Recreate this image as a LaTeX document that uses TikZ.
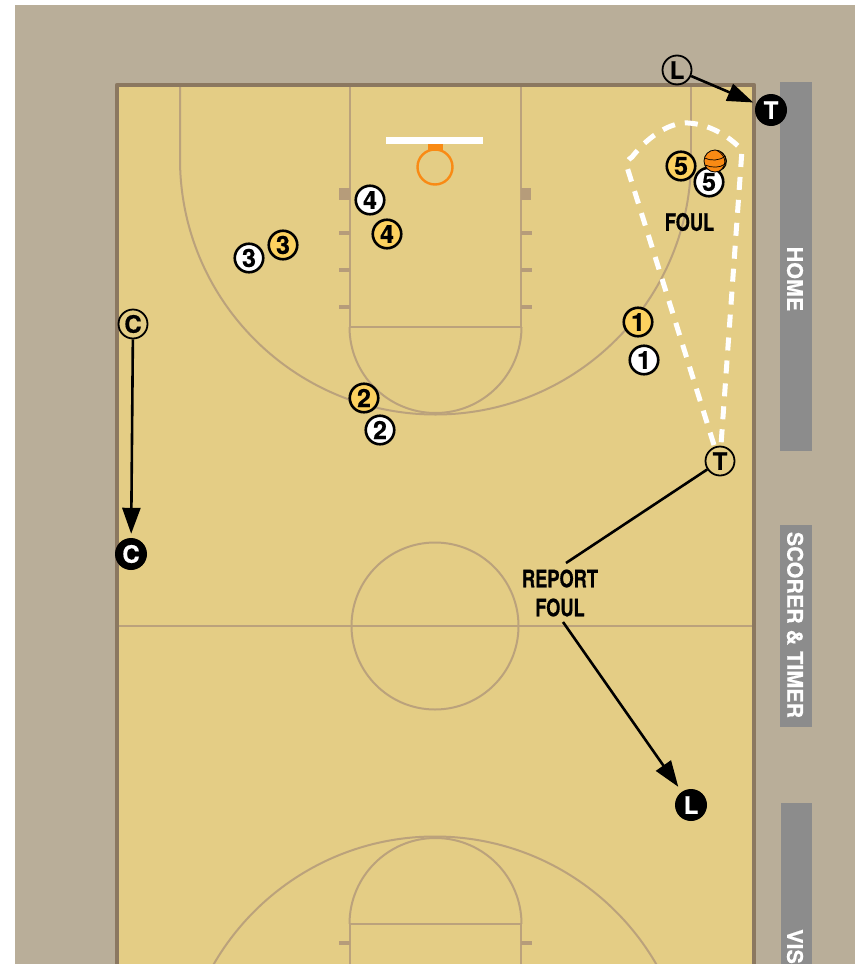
\documentclass[tikz,border=0pt]{standalone}
\usepackage{fontspec}
\usepackage{graphicx}
\setmainfont[BoldFeatures={FakeBold=0.5}]{TeX Gyre Heros}
\usetikzlibrary{arrows.meta}
\definecolor{bgc}{HTML}{B9AE99}
\definecolor{courtc}{HTML}{E4CD85}
\definecolor{borderc}{HTML}{8B7860}
\definecolor{linec}{HTML}{BBA27C}
\definecolor{markc}{HTML}{B69C7A}
\definecolor{barc}{HTML}{8C8C8C}
\definecolor{hoopc}{HTML}{F98A14}
\definecolor{yellowp}{HTML}{FCD15F}
\tikzset{
  courtline/.style={draw=linec,line width=2pt},
  hash/.style={fill=markc,draw=none},
  playerbase/.style={circle,draw=black,line width=2.6pt,minimum size=28.5pt,inner sep=0pt,font=\bfseries\fontsize{25}{25}\selectfont},
  yplayer/.style={playerbase,fill=yellowp},
  wplayer/.style={playerbase,fill=white},
  official/.style={circle,draw=black,line width=1.8pt,minimum size=29pt,inner sep=0pt,font=\bfseries\fontsize{24}{24}\selectfont},
  newpos/.style={circle,fill=black,minimum size=32pt,inner sep=0pt,text=white,font=\bfseries\fontsize{24}{24}\selectfont},
  note/.style={align=center,inner sep=0pt,font=\bfseries\fontsize{24}{29}\selectfont},
  barlabel/.style={rotate=-90,text=white,inner sep=0pt,font=\bfseries\fontsize{21.5}{21.5}\selectfont},
  move/.style={draw=black,line width=2.6pt,-{Triangle[length=26pt,width=18pt]}},
  plainmove/.style={draw=black,line width=2.6pt},
  pass/.style={draw=white,line width=5pt,dash pattern=on 13pt off 10pt}
}
\newcommand{\narrow}[1]{\scalebox{0.76}[1]{#1}}
\begin{document}
\begin{tikzpicture}[x=1pt,y=-1pt]
\useasboundingbox (0,0) rectangle (860,964);
\begin{scope}
\clip (0,0) rectangle (860,964);
\fill[white] (0,0) rectangle (860,964);
\fill[bgc] (15,5) rectangle (855,964);
% bars
\fill[barc] (780,82) rectangle (812,451);
\fill[barc] (780,525) rectangle (812,727);
\fill[barc] (781,803) rectangle (812,964);
% court
\fill[courtc] (117,85) rectangle (754,970);
% upper half
\draw[courtline] (180,85) -- (180,159) arc[start angle=180,end angle=0,radius=255.5];
\draw[courtline] (691,159) -- (691,85);
\draw[courtline] (350,85) -- (350,327) (520.5,85) -- (520.5,327) (350,327) -- (520.5,327);
\draw[courtline] (349.5,327) arc[start angle=180,end angle=0,radius=86];
\foreach \yy in {233,270,307}{
  \fill[hash] (339,\yy-1.7) rectangle (350,\yy+1.7);
  \fill[hash] (521,\yy-1.7) rectangle (532,\yy+1.7);
}
\fill[hash] (339,188) rectangle (350,200);
\fill[hash] (521,188) rectangle (531,200);
% centre
\draw[courtline] (117,626) -- (754,626);
\draw[courtline] (435,626) circle[radius=83.5];
% lower half
\draw[courtline] (179.5,1092) arc[start angle=180,end angle=360,radius=255.5];
\draw[courtline] (350,970) -- (350,924) -- (520.5,924) -- (520.5,970);
\draw[courtline] (349.5,924) arc[start angle=180,end angle=360,radius=86];
\fill[hash] (339,941.3) rectangle (350,944.7);
\fill[hash] (521,941.3) rectangle (532,944.7);
% border
\draw[borderc,line width=4.2pt,line join=round] (117,970) -- (117,85) -- (754,85) -- (754,970);
% hoop
\fill[white] (386,137) rectangle (483,144);
\fill[hoopc] (428,144) rectangle (443,151);
\draw[hoopc,line width=2.4pt] (435,167) circle[radius=17.5];
% bar labels
\node[barlabel] (home) at (795,279) {HOME};
\node[barlabel] (scorer) at (795,625) {SCORER \& TIMER};
\node[barlabel,anchor=west] (visitor) at (795,929) {VISI};
\end{scope}
% pass area
\draw[pass,line join=round] (714,445) -- (627,167) .. controls (626,161) and (628,160) .. (632,157) .. controls (650,134) and (672,122) .. (688,123) .. controls (708,124) and (728,135) .. (742,150) -- (721,445);
% players
\node[yplayer] (y3) at (283,245) {3};
\node[wplayer] (w3) at (249,258) {3};
\node[wplayer] (w4) at (370,200) {4};
\node[yplayer] (y4) at (387,234) {4};
\node[yplayer] (y1) at (638,322) {1};
\node[wplayer] (w1) at (644,360) {1};
\node[yplayer] (y2) at (364,398) {2};
\node[wplayer] (w2) at (380,430) {2};
\node[yplayer] (y5) at (681,166) {5};
\node[wplayer] (w5) at (709,182) {5};
% ball
\fill[hoopc] (715,161) circle[radius=11];
\draw[black,line width=0.8pt] (715,161) circle[radius=11];
\draw[black,line width=0.7pt] (704.5,158) .. controls (711,161) and (719,161) .. (725.5,156);
\draw[black,line width=0.7pt] (705,165) .. controls (712,168) and (720,168) .. (725,164);
\draw[black,line width=0.7pt] (717,150.5) .. controls (727,156) and (727,166) .. (719,171.5);
\draw[black,line width=0.7pt] (721,152) .. controls (728,157) and (728,165) .. (723,169);
% officials
\node[official] (L1) at (677,70) {L};
\node[official] (T1) at (720,461) {T};
\node[official] (C1) at (133,324) {C};
\node[newpos] (T2) at (771,110) {T};
\node[newpos] (C2) at (131,554) {C};
\node[newpos] (L2) at (691,805) {L};
% notes
\node[note] (foul) at (689.5,222) {\narrow{FOUL}};
\node[note] (report) at (560,593) {\narrow{REPORT}\\\narrow{FOUL}};
\coordinate (rin) at (566,563);
\coordinate (rout) at (563,622);
% connectors
\draw[move,shorten >=3pt] (L1) -- (T2);
\draw[move,shorten >=4pt] (C1) -- (C2);
\draw[plainmove] (T1) -- (rin);
\draw[move,shorten >=6pt] (rout) -- (L2);
\end{tikzpicture}
\end{document}
